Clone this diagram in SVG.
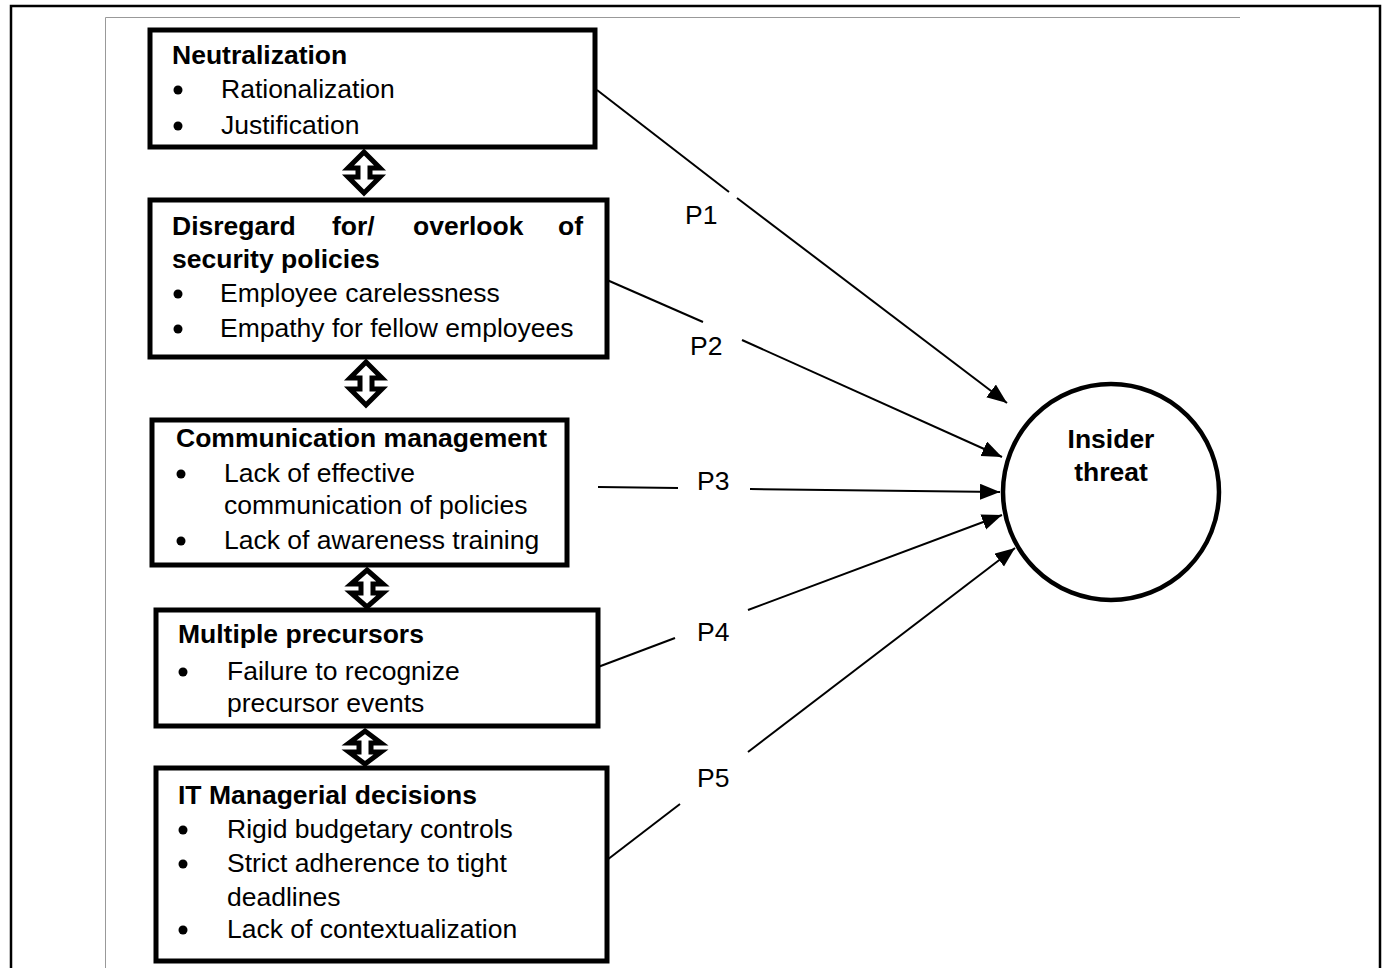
<svg xmlns="http://www.w3.org/2000/svg" width="1387" height="968" viewBox="0 0 1387 968">
  <style>
    text { font-family: "Liberation Sans", Arial, sans-serif; font-size: 26.5px; fill: #000; }
    .b { font-weight: bold; }
    .box { fill: #fff; stroke: #000; stroke-width: 5; }
    .dbl { fill: #fff; stroke: #000; stroke-width: 5; stroke-linejoin: miter; stroke-miterlimit: 10; }
    .link { stroke: #000; stroke-width: 2; fill: none; }
    .dot { fill: #000; }
  </style>
  <defs>
    <marker id="ah" markerUnits="userSpaceOnUse" markerWidth="22" markerHeight="18" refX="20" refY="8" orient="auto">
      <path d="M0,0 L20,8 L0,16 z" fill="#000"/>
    </marker>
  </defs>

  <rect width="1387" height="968" fill="#fff"/>

  <!-- page frame -->
  <g id="frame">
    <path d="M11,975 V6 H1380 V975" fill="none" stroke="#000" stroke-width="2.5"/>
    <path d="M105.5,975 V17.5 H1240" fill="none" stroke="#999" stroke-width="1"/>
  </g>

  <!-- factor boxes -->
  <g id="neutralization">
    <rect class="box" x="150" y="30" width="445" height="117"/>
    <text class="b" x="172" y="64">Neutralization</text>
    <circle class="dot" cx="178" cy="90" r="4.5"/>
    <text x="221" y="98">Rationalization</text>
    <circle class="dot" cx="178" cy="126" r="4.5"/>
    <text x="221" y="134">Justification</text>
  </g>

  <g id="disregard">
    <rect class="box" x="150" y="200" width="457" height="157"/>
    <text class="b" x="172" y="235">Disregard</text>
    <text class="b" x="332" y="235">for/</text>
    <text class="b" x="413" y="235">overlook</text>
    <text class="b" x="583" y="235" text-anchor="end">of</text>
    <text class="b" x="172" y="268">security policies</text>
    <circle class="dot" cx="178" cy="294" r="4.5"/>
    <text x="220" y="302">Employee carelessness</text>
    <circle class="dot" cx="178" cy="329" r="4.5"/>
    <text x="220" y="337">Empathy for fellow employees</text>
  </g>

  <g id="communication">
    <rect class="box" x="152" y="420" width="415" height="145"/>
    <text class="b" x="176" y="447">Communication management</text>
    <circle class="dot" cx="181" cy="474" r="4.5"/>
    <text x="224" y="482">Lack of effective</text>
    <text x="224" y="514">communication of policies</text>
    <circle class="dot" cx="181" cy="541" r="4.5"/>
    <text x="224" y="549">Lack of awareness training</text>
  </g>

  <g id="precursors">
    <rect class="box" x="156" y="610" width="442" height="116"/>
    <text class="b" x="178" y="643">Multiple precursors</text>
    <circle class="dot" cx="183" cy="672" r="4.5"/>
    <text x="227" y="680">Failure to recognize</text>
    <text x="227" y="712">precursor events</text>
  </g>

  <g id="it-decisions">
    <rect class="box" x="156" y="768" width="451" height="193"/>
    <text class="b" x="178" y="804">IT Managerial decisions</text>
    <circle class="dot" cx="183" cy="830" r="4.5"/>
    <text x="227" y="838">Rigid budgetary controls</text>
    <circle class="dot" cx="183" cy="864" r="4.5"/>
    <text x="227" y="872">Strict adherence to tight</text>
    <text x="227" y="906">deadlines</text>
    <circle class="dot" cx="183" cy="930" r="4.5"/>
    <text x="227" y="938">Lack of contextualization</text>
  </g>

  <g id="insider-threat">
    <circle cx="1111" cy="492" r="108" fill="#fff" stroke="#000" stroke-width="4.5"/>
    <text class="b" x="1111" y="448" text-anchor="middle">Insider</text>
    <text class="b" x="1111" y="481" text-anchor="middle">threat</text>
  </g>

  <!-- two-way links between neighbouring boxes -->
  <g id="two-way-links">
    <path class="dbl" d="M364,152 L380,168 L370,168 L370,177 L380,177 L364,193 L348,177 L358,177 L358,168 L348,168 Z"/>
    <path class="dbl" d="M366,362 L382,378 L372,378 L372,389 L382,389 L366,405 L350,389 L360,389 L360,378 L350,378 Z"/>
    <path class="dbl" d="M367,570 L383,584 L373,584 L373,593 L383,593 L367,607 L351,593 L361,593 L361,584 L351,584 Z"/>
    <path class="dbl" d="M365,731 L381,743 L371,743 L371,752 L381,752 L365,764 L349,752 L359,752 L359,743 L349,743 Z"/>
  </g>

  <!-- propositions P1-P5 -->
  <g id="connectors">
    <line class="link" x1="597" y1="90" x2="729" y2="192"/>
    <line class="link" x1="737" y1="198" x2="1007" y2="403" marker-end="url(#ah)"/>
    <line class="link" x1="607" y1="280" x2="703" y2="322"/>
    <line class="link" x1="742" y1="340" x2="1002" y2="457" marker-end="url(#ah)"/>
    <line class="link" x1="598" y1="487" x2="678" y2="488"/>
    <line class="link" x1="750" y1="489" x2="1000" y2="492" marker-end="url(#ah)"/>
    <line class="link" x1="598" y1="667" x2="675" y2="638"/>
    <line class="link" x1="748" y1="610" x2="1002" y2="515" marker-end="url(#ah)"/>
    <line class="link" x1="607" y1="860" x2="680" y2="804"/>
    <line class="link" x1="748" y1="752" x2="1015" y2="548" marker-end="url(#ah)"/>
  </g>

  <g id="labels">
    <text x="685" y="224">P1</text>
    <text x="690" y="355">P2</text>
    <text x="697" y="490">P3</text>
    <text x="697" y="641">P4</text>
    <text x="697" y="787">P5</text>
  </g>
</svg>
